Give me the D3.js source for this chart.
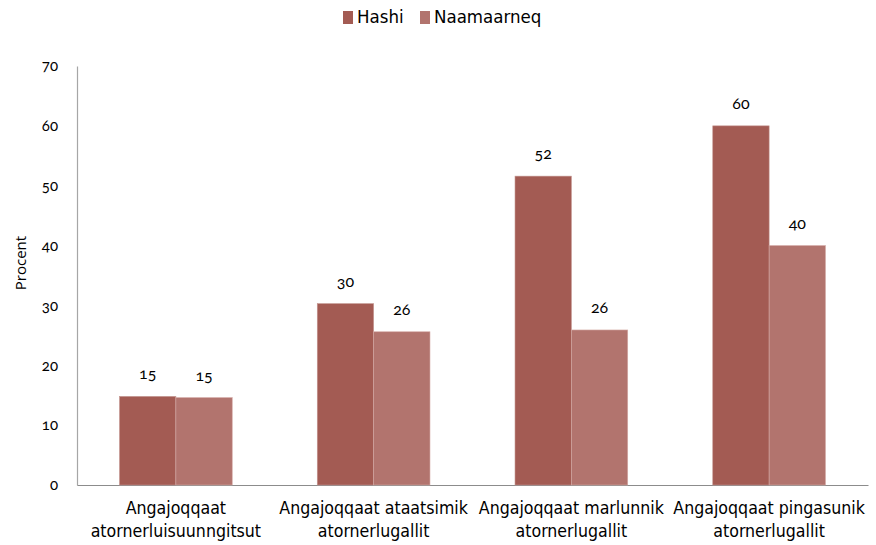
<!DOCTYPE html>
<html>
<head>
<meta charset="utf-8">
<script src="https://cdn.jsdelivr.net/npm/d3@7"></script>
<style>
  html, body { margin: 0; padding: 0; background: #fff; }
  svg text { fill: #000; }
  .num { font-family: Lato, "Open Sans", sans-serif; font-feature-settings: "onum" 1; font-variant-numeric: oldstyle-nums; }
  .lbl { font-family: "DejaVu Sans Condensed", "DejaVu Sans", sans-serif; }
</style>
</head>
<body>
<svg id="chart" width="876" height="545"></svg>
<script>
// Categories (two-line labels) and series values (percent)
const categories = [
  ["Angajoqqaat", "atornerluisuunngitsut"],
  ["Angajoqqaat ataatsimik", "atornerlugallit"],
  ["Angajoqqaat marlunnik", "atornerlugallit"],
  ["Angajoqqaat pingasunik", "atornerlugallit"]
];
const seriesNames = ["Hashi", "Naamaarneq"];
const hashi = [14.8, 30.3, 51.6, 60];
const naamaarneq = [14.6, 25.6, 25.9, 40];
const yTicks = [0, 10, 20, 30, 40, 50, 60, 70];
const colors = ["#a35b53", "#b2746e"];

const svg = d3.select("#chart");
const margin = { left: 77, right: 8, top: 66, bottom: 60 };
const W = 876, H = 545;
const y0 = 485;

const x = d3.scaleBand()
  .domain(d3.range(categories.length))
  .range([margin.left, W - margin.right])
  .padding(0);

const inner = d3.scaleBand()
  .domain(seriesNames)
  .range([x.bandwidth() * 0.215, x.bandwidth() * 0.785])
  .padding(0);

const y = d3.scaleLinear().domain([0, 70]).range([y0, margin.top]);

// y axis: line and labels, no tick marks
const yAxis = svg.append("g")
  .attr("transform", `translate(${margin.left},0)`)
  .call(d3.axisLeft(y).tickValues(yTicks).tickSize(0).tickPadding(19).tickFormat(d3.format("d")));
yAxis.select(".domain").attr("stroke", "#a6a6a6").attr("stroke-width", 1.2);
yAxis.selectAll("text").attr("class", "num").style("font-size", "15px");

// x axis baseline
const xAxis = svg.append("g")
  .attr("transform", `translate(0,${y0})`)
  .call(d3.axisBottom(x).tickSize(0).tickFormat(""));
xAxis.select(".domain").attr("stroke", "#8c8c8c").attr("stroke-width", 1.2);

// y title
svg.append("text")
  .attr("transform", "translate(22,263) rotate(-90)")
  .attr("text-anchor", "middle")
  .attr("dominant-baseline", "middle")
  .style("font-family", "'Open Sans', sans-serif")
  .style("font-size", "15px")
  .text("Procent");

// bars
const rows = categories.map((c, i) => ({ i, vals: [hashi[i], naamaarneq[i]] }));
const groups = svg.append("g").selectAll("g")
  .data(rows).join("g")
  .attr("transform", d => `translate(${x(d.i)},0)`);

groups.selectAll("rect")
  .data(d => d.vals.map((v, k) => ({ k, v })))
  .join("rect")
  .attr("x", d => inner(seriesNames[d.k]))
  .attr("width", inner.bandwidth())
  .attr("y", d => y(d.v))
  .attr("height", d => y0 - y(d.v))
  .attr("fill", d => colors[d.k])
  .attr("stroke", d => d.k === 0 ? "#c49590" : "#d4aaa6")
  .attr("stroke-width", 0.6);

// value labels
groups.selectAll("text.val")
  .data(d => d.vals.map((v, k) => ({ k, v })))
  .join("text")
  .attr("class", "val num")
  .attr("x", d => inner(seriesNames[d.k]) + inner.bandwidth() / 2)
  .attr("y", d => y(d.v) - 21)
  .attr("text-anchor", "middle")
  .attr("dominant-baseline", "middle")
  .style("font-size", "16px")
  .text(d => d3.format(".0f")(d.v));

// category labels
const cat = svg.append("g").selectAll("text")
  .data(categories).join("text")
  .attr("class", "lbl")
  .attr("text-anchor", "middle")
  .style("font-size", "17.6px")
  .attr("x", (d, i) => x(i) + x.bandwidth() / 2);
cat.selectAll("tspan")
  .data(d => d).join("tspan")
  .attr("x", function () { return d3.select(this.parentNode).attr("x"); })
  .attr("y", (d, j) => 514 + j * 23)
  .text(d => d);

// legend
const legend = svg.append("g").attr("class", "lbl");
const legX = [343, 420];
seriesNames.forEach((name, k) => {
  legend.append("rect")
    .attr("x", legX[k]).attr("y", 11)
    .attr("width", 10).attr("height", 13)
    .attr("fill", colors[k]);
  legend.append("text")
    .attr("x", legX[k] + 14).attr("y", 18)
    .attr("dominant-baseline", "middle")
    .style("font-size", "18.5px")
    .text(name);
});
</script>
</body>
</html>
